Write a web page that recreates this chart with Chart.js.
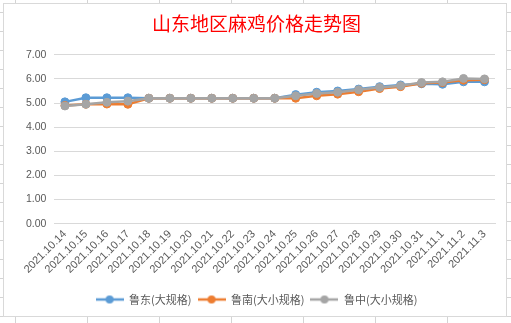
<!DOCTYPE html>
<html>
<head>
<meta charset="utf-8">
<script src="https://cdn.jsdelivr.net/npm/chart.js@4/dist/chart.umd.min.js"></script>
<style>
  html, body { margin: 0; padding: 0; }
  body {
    width: 511px; height: 323px; overflow: hidden; position: relative;
    background-color: #fff;
    background-image:
      linear-gradient(to right, #d4d4d4 1px, transparent 1px),
      linear-gradient(to bottom, #d4d4d4 1px, transparent 1px);
    background-size: 72px 19px;
    background-position: 15px 0, 0 12px;
  }
  #frame {
    position: absolute; left: 3px; top: 3px; width: 502px; height: 312px;
    background: #fff; border: 1px solid #d9d9d9;
  }
</style>
</head>
<body>
<div id="frame"><canvas id="lineCanvas" width="502" height="312"></canvas></div>
<script>
// 山东地区麻鸡价格
var dates = [
  "2021.10.14", "2021.10.15", "2021.10.16", "2021.10.17", "2021.10.18",
  "2021.10.19", "2021.10.20", "2021.10.21", "2021.10.22", "2021.10.23",
  "2021.10.24", "2021.10.25", "2021.10.26", "2021.10.27", "2021.10.28",
  "2021.10.29", "2021.10.30", "2021.10.31", "2021.11.1", "2021.11.2", "2021.11.3"
];
var ludong = [5.05, 5.22, 5.22, 5.22, 5.2, 5.2, 5.2, 5.2, 5.2, 5.2, 5.2,
  5.35, 5.45, 5.5, 5.58, 5.68, 5.75, 5.8, 5.78, 5.88, 5.88];
var lunan = [4.9, 4.95, 4.96, 4.95, 5.2, 5.2, 5.2, 5.2, 5.2, 5.2, 5.2,
  5.2, 5.3, 5.37, 5.47, 5.6, 5.68, 5.82, 5.85, 5.95, 5.97];
var luzhong = [4.88, 4.95, 5.03, 5.08, 5.2, 5.2, 5.2, 5.2, 5.2, 5.2, 5.2,
  5.3, 5.4, 5.45, 5.55, 5.65, 5.72, 5.85, 5.88, 6.02, 6.0];
var yTicks = [0, 1, 2, 3, 4, 5, 6, 7];

// legend icon: line with a dot in the middle
function legendIcon(color) {
  var c = document.createElement("canvas");
  c.width = 28; c.height = 10;
  var g = c.getContext("2d");
  g.strokeStyle = color; g.lineWidth = 2.5;
  g.beginPath(); g.moveTo(0, 5); g.lineTo(28, 5); g.stroke();
  g.fillStyle = color;
  g.beginPath(); g.arc(14, 5, 4, 0, Math.PI * 2); g.fill();
  return c;
}

function series(label, data, color, order) {
  return {
    label: label,
    data: data,
    borderColor: color,
    backgroundColor: color,
    pointBackgroundColor: color,
    pointBorderColor: color,
    borderWidth: 2.5,
    pointRadius: 4,
    pointBorderWidth: 1,
    tension: 0,
    fill: false,
    order: order
  };
}

var graphData = {
  type: "line",
  data: {
    labels: dates,
    datasets: [
      series("鲁东(大规格)", ludong, "#5B9BD5", 3),
      series("鲁南(大小规格)", lunan, "#ED7D31", 2),
      series("鲁中(大小规格)", luzhong, "#A5A5A5", 1)
    ]
  },
  options: {
    responsive: false,
    animation: false,
    layout: { padding: { left: 14, right: 11, top: 6, bottom: 1 } },
    plugins: {
      tooltip: { enabled: false },
      title: {
        display: true,
        text: "山东地区麻鸡价格走势图",
        color: "#FF0000",
        font: { family: "'Noto Sans CJK SC'", size: 19, weight: "normal" },
        padding: { top: 2, bottom: 20 }
      },
      legend: {
        position: "bottom",
        labels: {
          usePointStyle: true,
          pointStyleWidth: 28,
          padding: 6,
          color: "#595959",
          font: { family: "'Noto Sans CJK SC'", size: 11 },
          generateLabels: function (chart) {
            return chart.data.datasets.map(function (ds, i) {
              return {
                text: ds.label,
                pointStyle: legendIcon(ds.borderColor),
                fontColor: "#595959",
                fillStyle: ds.borderColor,
                strokeStyle: ds.borderColor,
                lineWidth: 0,
                hidden: false,
                datasetIndex: i
              };
            });
          }
        }
      }
    },
    scales: {
      x: {
        offset: true,
        afterFit: function (axis) { axis.height += 8; },
        grid: { display: false, drawTicks: false },
        border: { display: true, color: "#d9d9d9" },
        ticks: {
          autoSkip: false,
          minRotation: 45,
          maxRotation: 45,
          padding: 4,
          color: "#595959",
          font: { family: "'Liberation Sans'", size: 11 }
        }
      },
      y: {
        min: 0,
        max: 7,
        afterBuildTicks: function (axis) {
          axis.ticks = yTicks.map(function (v) { return { value: v }; });
        },
        grid: { color: "#d9d9d9", drawTicks: false },
        border: { display: false },
        ticks: {
          padding: 8,
          color: "#595959",
          font: { family: "'Liberation Sans'", size: 10.5 },
          callback: function (v) { return Number(v).toFixed(2); }
        }
      }
    }
  }
};

var context = document.getElementById("lineCanvas").getContext("2d");
var lineChart = new Chart(context, graphData);
</script>
</body>
</html>
